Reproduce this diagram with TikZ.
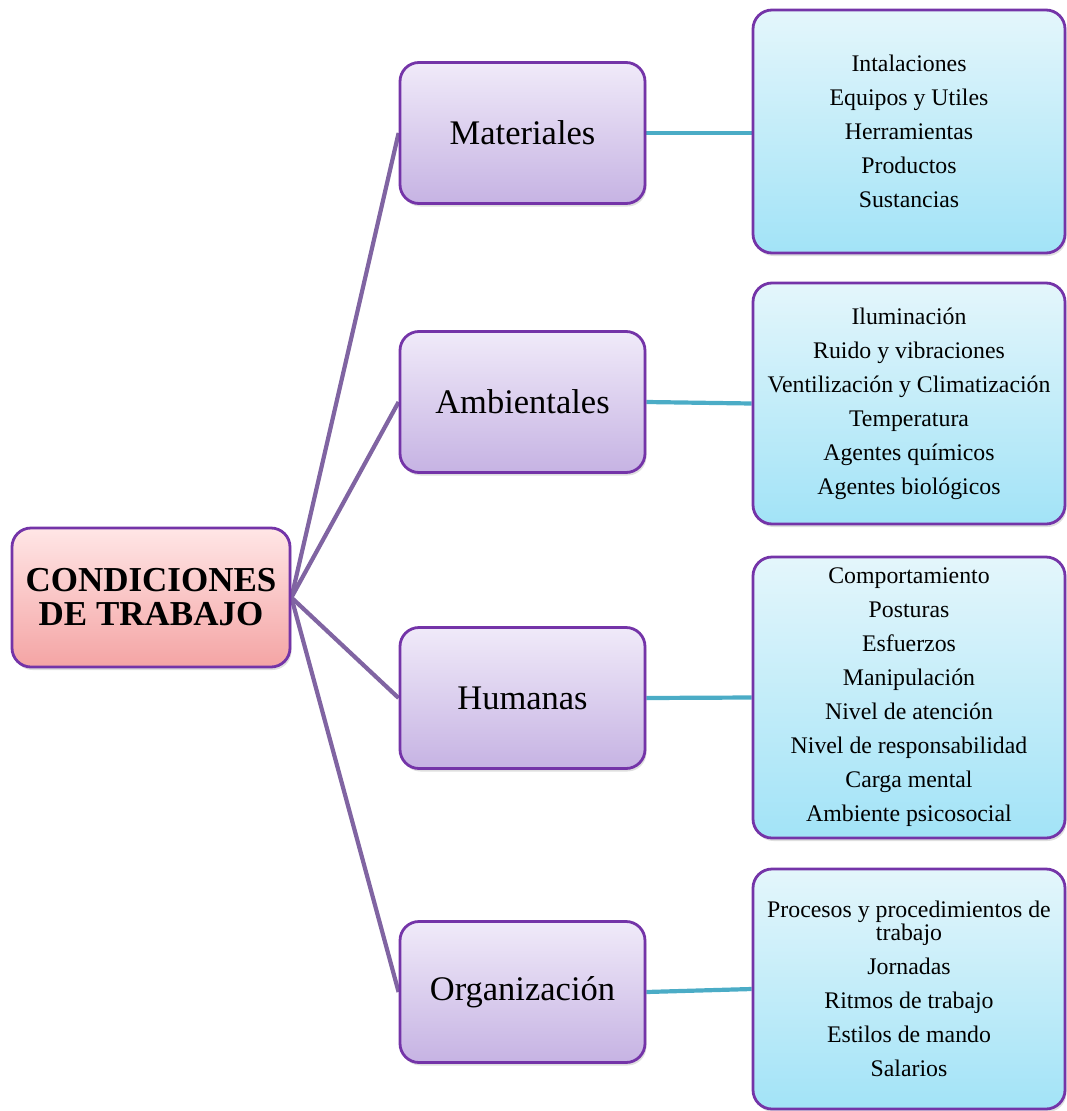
\documentclass[tikz,border=0pt]{standalone}
\usepackage{fontspec}
\setmainfont{Liberation Serif}
\usetikzlibrary{shadows,backgrounds}
\definecolor{boxborder}{HTML}{7434A8}
\definecolor{purpleline}{HTML}{8064A2}
\definecolor{cyanline}{HTML}{4BACC6}
\definecolor{roottop}{HTML}{FFE6E6}
\definecolor{rootbot}{HTML}{F4A4A4}
\definecolor{midtop}{HTML}{F0EAF9}
\definecolor{midbot}{HTML}{C6B3E3}
\definecolor{listtop}{HTML}{E4F6FB}
\definecolor{listbot}{HTML}{A2E3F7}
\tikzset{
  basebox/.style={draw=boxborder, line width=2.8pt, rounded corners=19pt,
    align=center, inner sep=0pt,
    drop shadow={opacity=0.25, shadow xshift=1.5pt, shadow yshift=-3pt}},
  rootbox/.style={basebox, minimum width=278pt, minimum height=139pt,
    top color=roottop, bottom color=rootbot,
    font=\fontsize{35}{34}\selectfont\bfseries},
  midbox/.style={basebox, minimum width=245pt, minimum height=141pt,
    top color=midtop, bottom color=midbot,
    font=\fontsize{34.5}{38}\selectfont},
  listbox/.style={basebox, minimum width=312pt,
    top color=listtop, bottom color=listbot,
    font=\fontsize{23.8}{23}\selectfont},
  branch/.style={draw=purpleline, line width=4.2pt},
  twig/.style={draw=cyanline, line width=4.2pt},
}
\begin{document}
\begin{tikzpicture}[x=1pt, y=-1pt]
\useasboundingbox (0,0) rectangle (1067,1111);

% root
\node[rootbox] (root) at (151,597.5) {CONDICIONES\\DE TRABAJO};

% categories
\node[midbox] (mat) at (522.5,133)  {Materiales};
\node[midbox] (amb) at (522.5,402)  {Ambientales};
\node[midbox] (hum) at (522.5,698)  {Humanas};
\node[midbox] (org) at (522.5,992)  {Organización};

% detail lists
\node[listbox, minimum height=243pt] (lmat) at (909,131.5)
  {Intalaciones\\[11pt]Equipos y Utiles\\[11pt]Herramientas\\[11pt]Productos\\[11pt]Sustancias};
\node[listbox, minimum height=241pt] (lamb) at (909,403.5)
  {Iluminación\\[11pt]Ruido y vibraciones\\[11pt]Ventilización y Climatización\\[11pt]Temperatura\\[11pt]Agentes químicos\\[11pt]Agentes biológicos};
\node[listbox, minimum height=281pt] (lhum) at (909,697.5)
  {Comportamiento\\[11pt]Posturas\\[11pt]Esfuerzos\\[11pt]Manipulación\\[11pt]Nivel de atención\\[11pt]Nivel de responsabilidad\\[11pt]Carga mental\\[11pt]Ambiente psicosocial};
\node[listbox, minimum height=240pt] (lorg) at (909,989)
  {Procesos y procedimientos de\\trabajo\\[11pt]Jornadas\\[11pt]Ritmos de trabajo\\[11pt]Estilos de mando\\[11pt]Salarios};

% connectors behind the boxes
\begin{pgfonlayer}{background}
  \foreach \m in {mat,amb,hum,org}
    \draw[branch] (root.east) -- (\m.west);
  \draw[twig] (mat.east) -- (lmat.west |- mat.east);
  \draw[twig] (amb.east) -- (lamb.west);
  \draw[twig] (hum.east) -- (lhum.west);
  \draw[twig] (org.east) -- (lorg.west);
\end{pgfonlayer}
\end{tikzpicture}
\end{document}
